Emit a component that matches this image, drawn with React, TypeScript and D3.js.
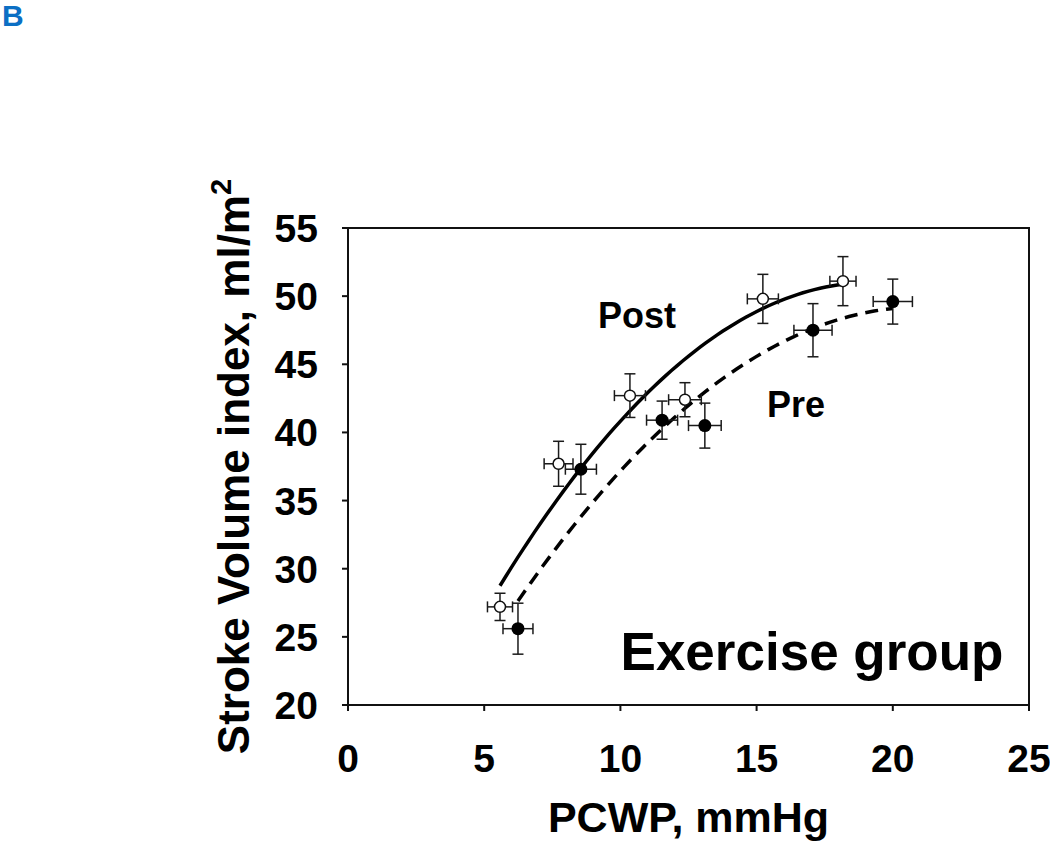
import * as d3 from 'd3';

// values
const xTicks = [0, 5, 10, 15, 20, 25];
const yTicks = [20, 25, 30, 35, 40, 45, 50, 55];

const postX = [5.58, 7.73, 10.35, 12.37, 15.23, 18.17];
const postY = [27.2, 37.7, 42.7, 42.4, 49.8, 51.1];
const postXErr = [0.46, 0.53, 0.57, 0.6, 0.57, 0.48];
const postYErr = [1.0, 1.65, 1.6, 1.25, 1.8, 1.8];

const preX = [6.24, 8.55, 11.53, 13.1, 17.07, 20.0];
const preY = [25.6, 37.3, 40.9, 40.5, 47.5, 49.6];
const preXErr = [0.55, 0.57, 0.57, 0.6, 0.7, 0.72];
const preYErr = [1.87, 1.83, 1.4, 1.65, 1.95, 1.65];

const FONT = '"Liberation Sans", Arial, Helvetica, sans-serif';

type Pt = { x: number; y: number; ex: number; ey: number };

const zip = (xs: number[], ys: number[], exs: number[], eys: number[]): Pt[] =>
  xs.map((x, i) => ({ x, y: ys[i], ex: exs[i], ey: eys[i] }));

// second order polynomial trendline (least squares), like the spreadsheet one
function quadFit(xs: number[], ys: number[]) {
  const s = [0, 0, 0, 0, 0];
  const t = [0, 0, 0];
  xs.forEach((x, i) => {
    for (let k = 0; k < 5; k++) s[k] += Math.pow(x, k);
    for (let k = 0; k < 3; k++) t[k] += ys[i] * Math.pow(x, k);
  });
  const m = [
    [s[0], s[1], s[2], t[0]],
    [s[1], s[2], s[3], t[1]],
    [s[2], s[3], s[4], t[2]],
  ];
  for (let c = 0; c < 3; c++) {
    for (let r = c + 1; r < 3; r++) {
      const f = m[r][c] / m[c][c];
      for (let k = c; k < 4; k++) m[r][k] -= f * m[c][k];
    }
  }
  const b = [0, 0, 0];
  for (let r = 2; r >= 0; r--) {
    let v = m[r][3];
    for (let k = r + 1; k < 3; k++) v -= m[r][k] * b[k];
    b[r] = v / m[r][r];
  }
  return (x: number) => b[0] + b[1] * x + b[2] * x * x;
}

export default function App() {
  const width = 1050;
  const height = 846;
  const left = 348;
  const right = 1029;
  const top = 228;
  const bottom = 705;

  const x = d3.scaleLinear().domain([0, 25]).range([left, right]);
  const y = d3.scaleLinear().domain([20, 55]).range([bottom, top]);

  const post = zip(postX, postY, postXErr, postYErr);
  const pre = zip(preX, preY, preXErr, preYErr);

  const line = d3
    .line<number[]>()
    .x(d => x(d[0]))
    .y(d => y(d[1]));

  const trend = (xs: number[], ys: number[]) => {
    const f = quadFit(xs, ys);
    const [lo, hi] = d3.extent(xs) as [number, number];
    return line(d3.range(0, 61).map(i => {
      const v = lo + ((hi - lo) * i) / 60;
      return [v, f(v)];
    }));
  };

  const errBars = (pts: Pt[], key: string) =>
    pts.map((d, i) => {
      const cx = x(d.x);
      const cy = y(d.y);
      const cap = 5.5;
      return (
        <g key={key + i} stroke="#1a1a1a" strokeWidth={1.5} fill="none">
          <line x1={cx} x2={cx} y1={y(d.y - d.ey)} y2={y(d.y + d.ey)} />
          <line x1={cx - cap} x2={cx + cap} y1={y(d.y - d.ey)} y2={y(d.y - d.ey)} />
          <line x1={cx - cap} x2={cx + cap} y1={y(d.y + d.ey)} y2={y(d.y + d.ey)} />
          <line x1={x(d.x - d.ex)} x2={x(d.x + d.ex)} y1={cy} y2={cy} />
          <line x1={x(d.x - d.ex)} x2={x(d.x - d.ex)} y1={cy - cap} y2={cy + cap} />
          <line x1={x(d.x + d.ex)} x2={x(d.x + d.ex)} y1={cy - cap} y2={cy + cap} />
        </g>
      );
    });

  return (
    <svg
      width={width}
      height={height}
      style={{ position: 'absolute', left: 0, top: 0, background: '#fff' }}
      fontFamily={FONT}
      fontWeight="bold"
    >
      <text x={2} y={26} fontSize={30} fill="#0b6fc4">B</text>

      {/* frame */}
      <rect x={left} y={top} width={right - left} height={bottom - top} fill="none" stroke="#111" strokeWidth={2} />

      {yTicks.map(t => (
        <g key={'y' + t}>
          <line x1={left - 6} x2={left} y1={y(t)} y2={y(t)} stroke="#111" strokeWidth={2} />
          <text x={318} y={y(t)} dy="0.36em" textAnchor="end" fontSize={39} fill="#000">{t}</text>
        </g>
      ))}
      {xTicks.map(t => (
        <g key={'x' + t}>
          <line x1={x(t)} x2={x(t)} y1={bottom} y2={bottom + 6} stroke="#111" strokeWidth={2} />
          <text x={x(t)} y={772} textAnchor="middle" fontSize={39} fill="#000">{t}</text>
        </g>
      ))}

      <text x={(left + right) / 2} y={832} textAnchor="middle" fontSize={43} fill="#000">PCWP, mmHg</text>
      <text transform={`translate(249,${(top + bottom) / 2}) rotate(-90)`} textAnchor="middle" fontSize={44} fill="#000">
        Stroke Volume index, ml/m<tspan fontSize={29} dy={-18}>2</tspan>
      </text>

      {/* trendlines */}
      <path d={trend(postX, postY) || ''} fill="none" stroke="#000" strokeWidth={3.5} />
      <path d={trend(preX, preY) || ''} fill="none" stroke="#000" strokeWidth={3.5} strokeDasharray="13,8" />

      {errBars(post, 'po')}
      {errBars(pre, 'pr')}

      {post.map((d, i) => (
        <circle key={'pc' + i} cx={x(d.x)} cy={y(d.y)} r={5.5} fill="#fff" stroke="#111" strokeWidth={1.5} />
      ))}
      {pre.map((d, i) => (
        <circle key={'rc' + i} cx={x(d.x)} cy={y(d.y)} r={6.5} fill="#000" />
      ))}

      <text x={637} y={328} textAnchor="middle" fontSize={36} fill="#000">Post</text>
      <text x={796} y={417} textAnchor="middle" fontSize={36} fill="#000">Pre</text>
      <text x={812} y={670} textAnchor="middle" fontSize={53} fill="#000">Exercise group</text>
    </svg>
  );
}
